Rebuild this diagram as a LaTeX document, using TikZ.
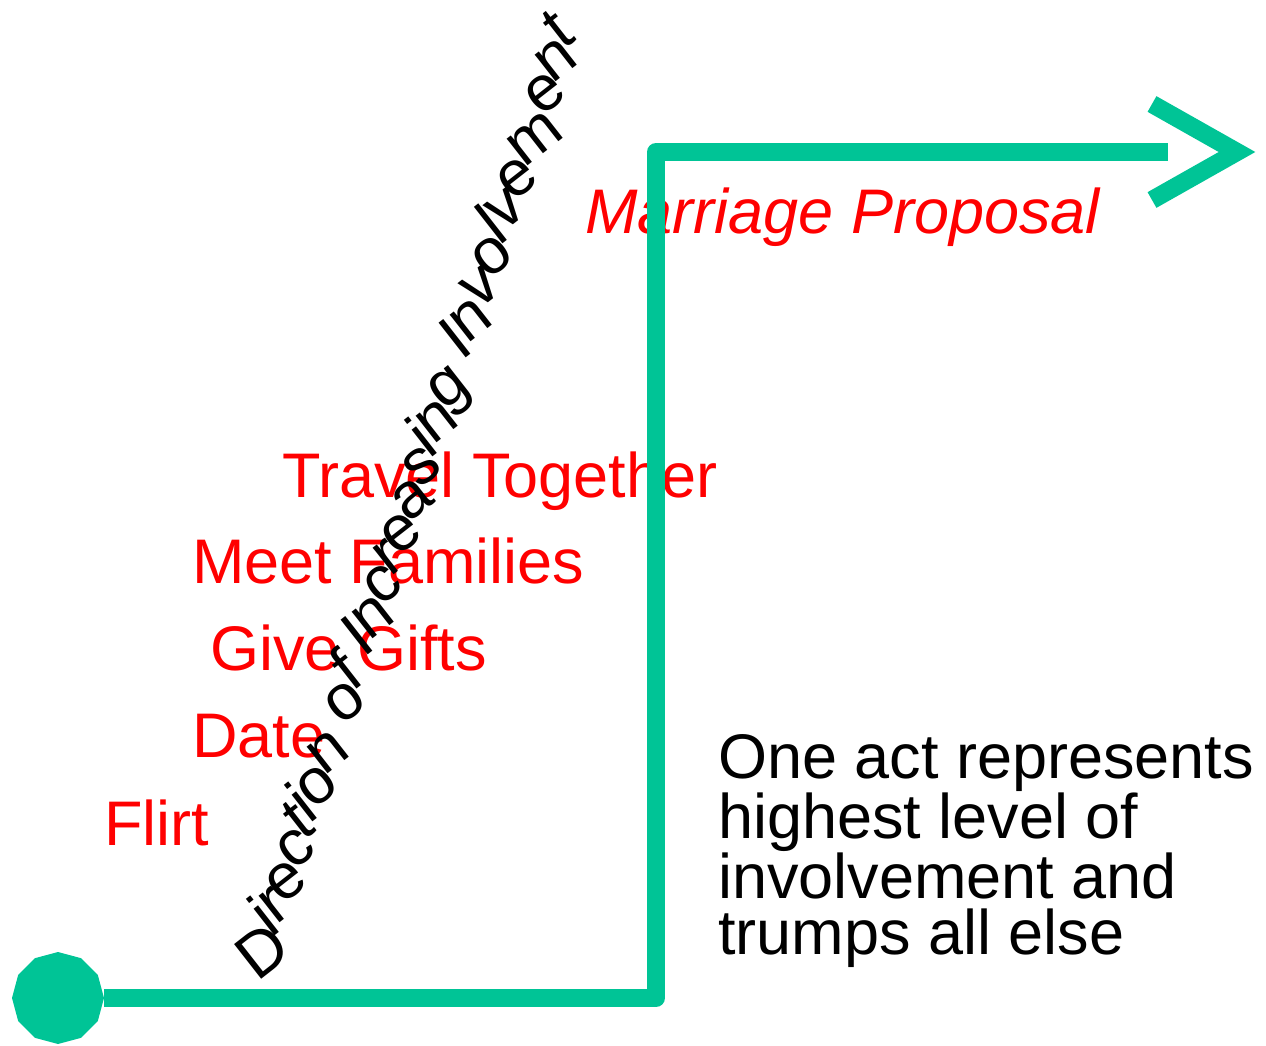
\documentclass[tikz,border=0pt]{standalone}
\usepackage{fontspec}
\setmainfont{Liberation Sans}
\usetikzlibrary{shapes.geometric}
\definecolor{trendgreen}{RGB}{0,196,150}
\definecolor{actred}{RGB}{255,0,0}

\begin{document}
\begin{tikzpicture}[x=1pt,y=-1pt,
    act/.style={anchor=base west,inner sep=0pt,text=actred,
      font=\fontsize{63}{56}\selectfont},
    note/.style={anchor=base west,inner sep=0pt,align=left,
      font=\fontsize{63}{56}\selectfont},
    glyph/.style={anchor=base west,inner sep=0pt,rotate=38,
      font=\fontsize{64}{56}\selectfont},
    trend/.style={draw=trendgreen,line width=18pt,line join=round}]
  \useasboundingbox (0,0) rectangle (1266,1046);
  % the acts, lowest first
  \node[act] (flirt) at (104,845) {Flirt};
  \node[act] (date) at (192,757) {Date};
  \node[act] (gifts) at (210,670) {Give Gifts};
  \node[act] (families) at (192,583) {Meet Families};
  \node[act] (travel) at (282,497) {Travel Together};
  \node[act,font=\fontsize{63}{56}\selectfont\itshape] (proposal) at (585,233) {Marriage Proposal};
  \node[note] (remark) at (718,954) {One act represents\\highest level of\\involvement and\\trumps all else};
  % axis label, one letter at a time (advance in 1/1000 em)
  \coordinate (axisstart) at (257,983);
  \foreach \ch/\adv [count=\k] in {D/0,i/722,r/944,e/1277,c/1833,t/2333,i/2611,o/2833,n/3389,
      o/4223,f/4779,
      I/5335,n/5613,c/6169,r/6669,e/7002,a/7558,s/8114,i/8614,n/8836,g/9392,
      I/10226,n/10504,v/11060,o/11560,l/12116,v/12338,e/12838,m/13394,e/14227,n/14783,t/15339}
    \node[glyph] (axis-\k) at ([shift={(71.8:{0.064pt*\adv})}]axisstart) {\ch};
  % the step line
  \node[regular polygon,regular polygon sides=12,regular polygon rotate=15,
    fill=trendgreen,minimum size=92pt,inner sep=0pt] (start) at (58,998) {};
  \coordinate (low) at (656,998);
  \coordinate (high) at (656,152);
  \coordinate (finish) at (1168,152);
  \coordinate (tip) at (1237,152);
  \draw[trend] (start) -- (low) -- (high) -- (finish);
  \draw[trend,line join=miter] ([shift={(-85,-48)}]tip) -- (tip) -- ([shift={(-85,48)}]tip);
\end{tikzpicture}
\end{document}
